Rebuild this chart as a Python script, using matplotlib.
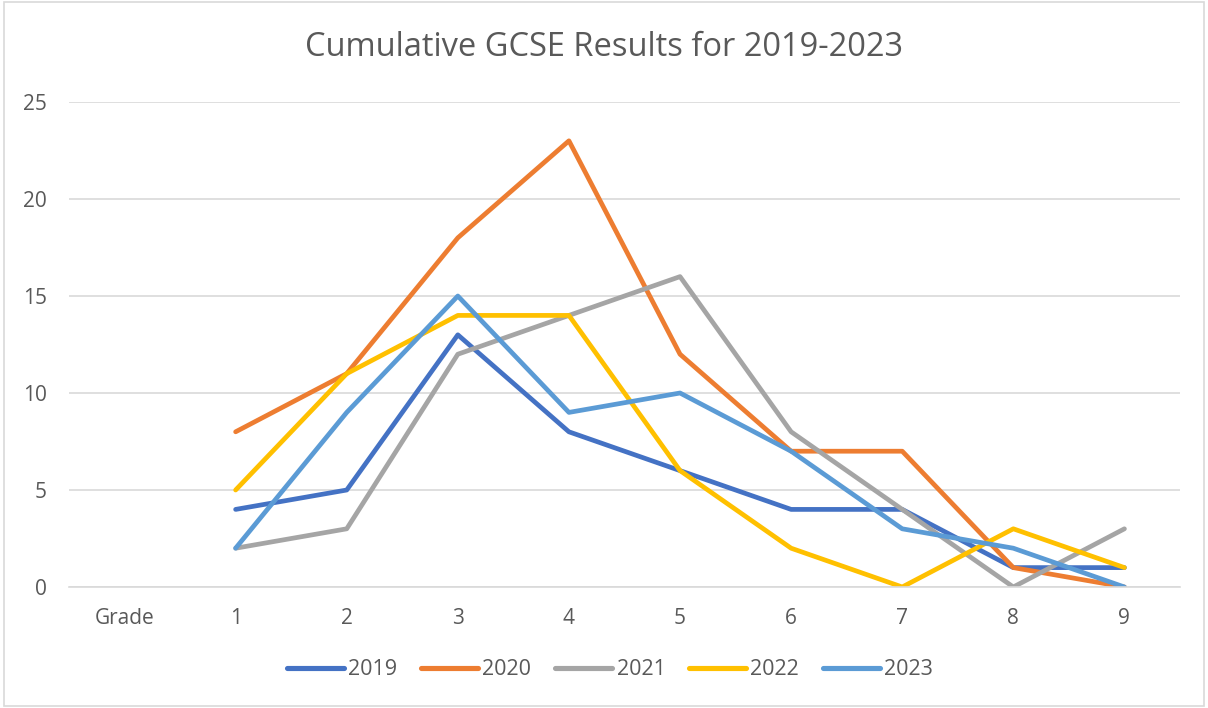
import numpy as np
import matplotlib.pyplot as plt
from matplotlib.patches import Rectangle

plt.rcParams['font.family'] = ['Open Sans', 'DejaVu Sans']

categories = ['Grade', '1', '2', '3', '4', '5', '6', '7', '8', '9']
years = ['2019', '2020', '2021', '2022', '2023']
colors = ['#4472C4', '#ED7D31', '#A5A5A5', '#FFC000', '#5B9BD5']

# first category ("Grade") has no values
y2019 = [np.nan, 4, 5, 13, 8, 6, 4, 4, 1, 1]
y2020 = [np.nan, 8, 11, 18, 23, 12, 7, 7, 1, 0]
y2021 = [np.nan, 2, 3, 12, 14, 16, 8, 4, 0, 3]
y2022 = [np.nan, 5, 11, 14, 14, 6, 2, 0, 3, 1]
y2023 = [np.nan, 2, 9, 15, 9, 10, 7, 3, 2, 0]
series = [y2019, y2020, y2021, y2022, y2023]

fig = plt.figure(figsize=(12.08, 7.08), dpi=100)
ax = fig.add_axes([0.0571, 0.1709, 0.9197, 0.685])

x = np.arange(len(categories))
for label, vals, c in zip(years, series, colors):
    ax.plot(x, vals, color=c, linewidth=3.4, label=label,
            solid_capstyle='round', solid_joinstyle='round')

ax.set_xlim(-0.5, len(categories) - 0.5)
ax.set_ylim(0, 25)
ax.set_yticks(range(0, 26, 5))
ax.set_xticks(x)
ax.set_xticklabels(categories)
ax.grid(axis='y', color='#D9D9D9', linewidth=1.2)
ax.set_axisbelow(True)
for s in ['top', 'right', 'left']:
    ax.spines[s].set_visible(False)
ax.spines['bottom'].set_color('#D9D9D9')
ax.spines['bottom'].set_linewidth(1.2)
ax.tick_params(length=0, labelsize=15, colors='#595959')
ax.tick_params(axis='x', pad=15)
ax.tick_params(axis='y', pad=16)

fig.text(0.5, 0.933, 'Cumulative GCSE Results for 2019-2023', ha='center', va='center',
         fontsize=23.5, color='#595959')

leg = fig.legend(loc='center', bbox_to_anchor=(0.505, 0.054), ncol=5, frameon=False,
                 fontsize=15.5, handlelength=2.65, columnspacing=1.1, handletextpad=0.2)
for t in leg.get_texts():
    t.set_color('#595959')
for h in leg.get_lines():
    h.set_linewidth(3.7)
    h.set_solid_capstyle('round')

fig.patches.append(Rectangle((0.003, 0.003), 0.994, 0.994, transform=fig.transFigure,
                             fill=False, edgecolor='#D9D9D9', linewidth=1.2))

fig.savefig('out.png', dpi=100)
